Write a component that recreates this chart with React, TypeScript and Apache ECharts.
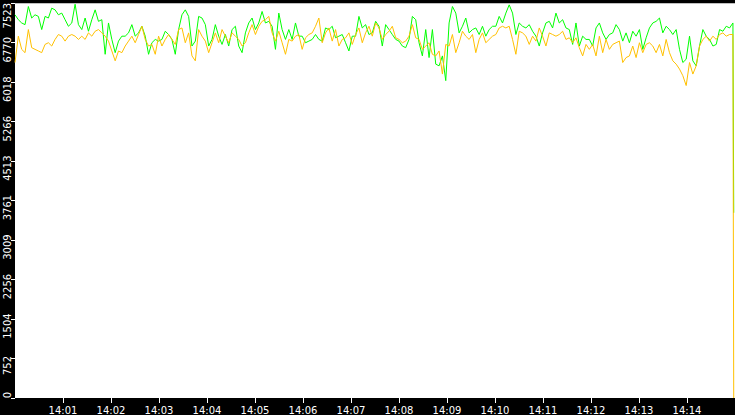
import { useEffect, useRef } from 'react';
import * as echarts from 'echarts';

// samples are ~4.17 s apart, starting 14:00:00 (x axis is seconds after 14:00)
const STEP_S = 4.174;
// the closing drop is logged one second after the last regular sample
const DROP_GAP_S = 1;

// green series, one chunk per ~2.5 minutes
const greenA = [7303, 7209, 7147, 7115, 7460, 7241, 7303, 7272, 7021, 7272, 7241, 7429, 7397, 7303, 7335, 7209, 7084, 7147, 7504, 7115, 7021, 7241, 6989, 7209, 7397, 7178, 7209, 6550, 7147, 6833, 6581, 6801, 6895, 6895, 6958, 7115];
const greenB = [6895, 6958, 7084, 6895, 6550, 6770, 6833, 6801, 6833, 6989, 6927, 6833, 6550, 7021, 7303, 7397, 7272, 6707, 6801, 7272, 7241, 7115, 6707, 6833, 7115, 6895, 6738, 6927, 6707, 7021, 7084, 6707, 6581, 6958, 7147, 7241];
const greenC = [7021, 7147, 7366, 7147, 7178, 7084, 6644, 7335, 7021, 6833, 7021, 6833, 7147, 6895, 6895, 6770, 6801, 6833, 6927, 6833, 6801, 7052, 7021, 7084, 6864, 6895, 6927, 6770, 6613, 6895, 6895, 7272, 7052, 7115, 6927, 6958];
const greenD = [7178, 7084, 6707, 7115, 7021, 6927, 6833, 6801, 6707, 6676, 6833, 7272, 7209, 6770, 6519, 7021, 6487, 7021, 6362, 6330, 6519, 6048, 7147, 7460, 7335, 6958, 7084, 7241, 6958, 7021, 7052, 6927, 7084, 6895, 7021, 7084];
const greenE = [7084, 7272, 7147, 7335, 7492, 7335, 6927, 7147, 7084, 7052, 7115, 6989, 6895, 6707, 6958, 7147, 7178, 7052, 7335, 7147, 7209, 7052, 7021, 6738, 7147, 6707, 6895, 6833, 6833, 6707, 7052, 7147, 6958, 6833, 6927, 6958];
const greenF = [7115, 7021, 6801, 6958, 6770, 6989, 6895, 7021, 6644, 6864, 7052, 7147, 7178, 7241, 6958, 7084, 7021, 6927, 7021, 6644, 6393, 6456, 6895, 6425, 6330, 6707, 7021, 6895, 6833, 6707, 6738, 7021, 6989, 7084, 7052, 7147, 3530];

// orange series
const orangeA = [6393, 6895, 6644, 6581, 7021, 6676, 6644, 6613, 6581, 6738, 6770, 6707, 6833, 6927, 6895, 6801, 6895, 6927, 6895, 6833, 6895, 6833, 6958, 6895, 6989, 7021, 6958, 6895, 6801, 6613, 6425, 6613, 6581, 6707, 6801, 6895];
const orangeB = [6770, 6927, 7084, 6833, 6707, 6738, 6550, 6895, 6707, 6833, 6927, 6833, 6738, 7021, 7052, 6770, 6958, 6519, 6425, 7021, 6895, 6801, 6581, 6770, 6958, 6770, 7021, 6895, 6770, 6958, 6895, 6833, 6707, 6770, 6958, 7115];
const orangeC = [6927, 7084, 7178, 7209, 7272, 6958, 6801, 6989, 6770, 6550, 6833, 6801, 6895, 6927, 6644, 6864, 6927, 6958, 7084, 7241, 6770, 6958, 7052, 6801, 7021, 6707, 6833, 6864, 6958, 6738, 6927, 7052, 6770, 6958, 7084, 6895];
const orangeD = [7147, 7052, 6833, 6927, 6989, 7084, 6864, 6833, 6770, 6801, 6895, 7115, 6864, 6833, 6644, 6707, 6770, 6550, 6519, 6613, 6173, 6738, 6707, 6927, 6581, 6770, 6989, 6895, 6833, 6927, 6581, 6833, 6958, 6770, 6833, 6895];
const orangeE = [6927, 7052, 7084, 7052, 7084, 6833, 6550, 6989, 6958, 6895, 6738, 6895, 6801, 7052, 6895, 6707, 6958, 6927, 6895, 6927, 6989, 6833, 6864, 6770, 6864, 6676, 6519, 6738, 6644, 6738, 6519, 6895, 6581, 6833, 6644, 6738];
const orangeF = [6770, 6801, 6393, 6487, 6519, 6707, 6487, 6770, 6581, 6738, 6770, 6707, 6581, 6738, 6519, 6833, 6581, 6425, 6362, 6268, 6142, 5954, 6393, 6173, 6330, 6707, 6833, 6895, 6801, 6895, 6833, 6927, 6958, 6895, 6927, 6927, 0];

// y axis: 0..7523 in ten steps, labels truncated
const Y_MAX = 7523;
const Y_STEP = 752.3;
// x axis: minute marks 14:01 .. 14:14
const minuteMarks = [60, 120, 180, 240, 300, 360, 420, 480, 540, 600, 660, 720, 780, 840];

const green = [...greenA, ...greenB, ...greenC, ...greenD, ...greenE, ...greenF];
const orange = [...orangeA, ...orangeB, ...orangeC, ...orangeD, ...orangeE, ...orangeF];

const toPairs = (vals: number[]) =>
  vals.map((v, i) => {
    const last = i === vals.length - 1;
    const t = last ? (i - 1) * STEP_S + DROP_GAP_S : i * STEP_S;
    return [+t.toFixed(2), v];
  });

const FONT = 'DejaVu Sans';
const lbl = { color: '#fff', fontSize: 10, fontFamily: FONT };

export default function App() {
  const ref = useRef<HTMLDivElement>(null);

  useEffect(() => {
    if (!ref.current) return;
    const chart = echarts.init(ref.current, undefined, { renderer: 'svg' });
    chart.setOption({
      animation: false,
      backgroundColor: '#000',
      textStyle: { fontFamily: FONT },
      grid: { left: 15, right: 0, top: 0, bottom: 16, show: true, backgroundColor: '#fff', borderWidth: 0 },
      xAxis: {
        type: 'value',
        min: 0,
        max: 900,
        interval: 60,
        axisLine: { show: false },
        splitLine: { show: false },
        axisTick: { show: true, length: 5, lineStyle: { color: '#fff', width: 1 }, customValues: minuteMarks },
        axisLabel: {
          ...lbl,
          margin: 7,
          customValues: minuteMarks,
          formatter: (v: number) => {
            if (v <= 0 || v >= 900) return '';
            const m = Math.round(v / 60);
            return '14:' + (m < 10 ? '0' + m : String(m));
          },
        },
      },
      yAxis: {
        type: 'value',
        min: 0,
        max: Y_MAX,
        interval: Y_STEP,
        axisLine: { show: false },
        splitLine: { show: false },
        axisTick: { show: true, length: 4, lineStyle: { color: '#fff', width: 1 } },
        axisLabel: {
          ...lbl,
          rotate: 90,
          margin: 3,
          formatter: (v: number) => {
            const t = String(Math.floor(v + 1e-6));
            if (v < 1) return '{lo|' + t + '}';
            if (v > Y_MAX - 1) return '{hi|' + t + '}';
            return '{m|' + t + '}';
          },
          rich: {
            m: { ...lbl, padding: [0, 14, 0, 0] },
            lo: { ...lbl, padding: [0, 0, 0, 6] },
            hi: { ...lbl, padding: [0, 25, 0, 0] },
          },
        },
      },
      series: [
        {
          type: 'line',
          data: toPairs(green),
          showSymbol: false,
          lineStyle: { color: '#00ff00', width: 1 },
          itemStyle: { color: '#00ff00' },
        },
        {
          type: 'line',
          data: toPairs(orange),
          showSymbol: false,
          lineStyle: { color: '#ffc000', width: 1 },
          itemStyle: { color: '#ffc000' },
        },
      ],
    });
    return () => chart.dispose();
  }, []);

  return (
    <div
      ref={ref}
      style={{ position: 'absolute', left: 0, top: 0, width: 735, height: 415 }}
    />
  );
}
